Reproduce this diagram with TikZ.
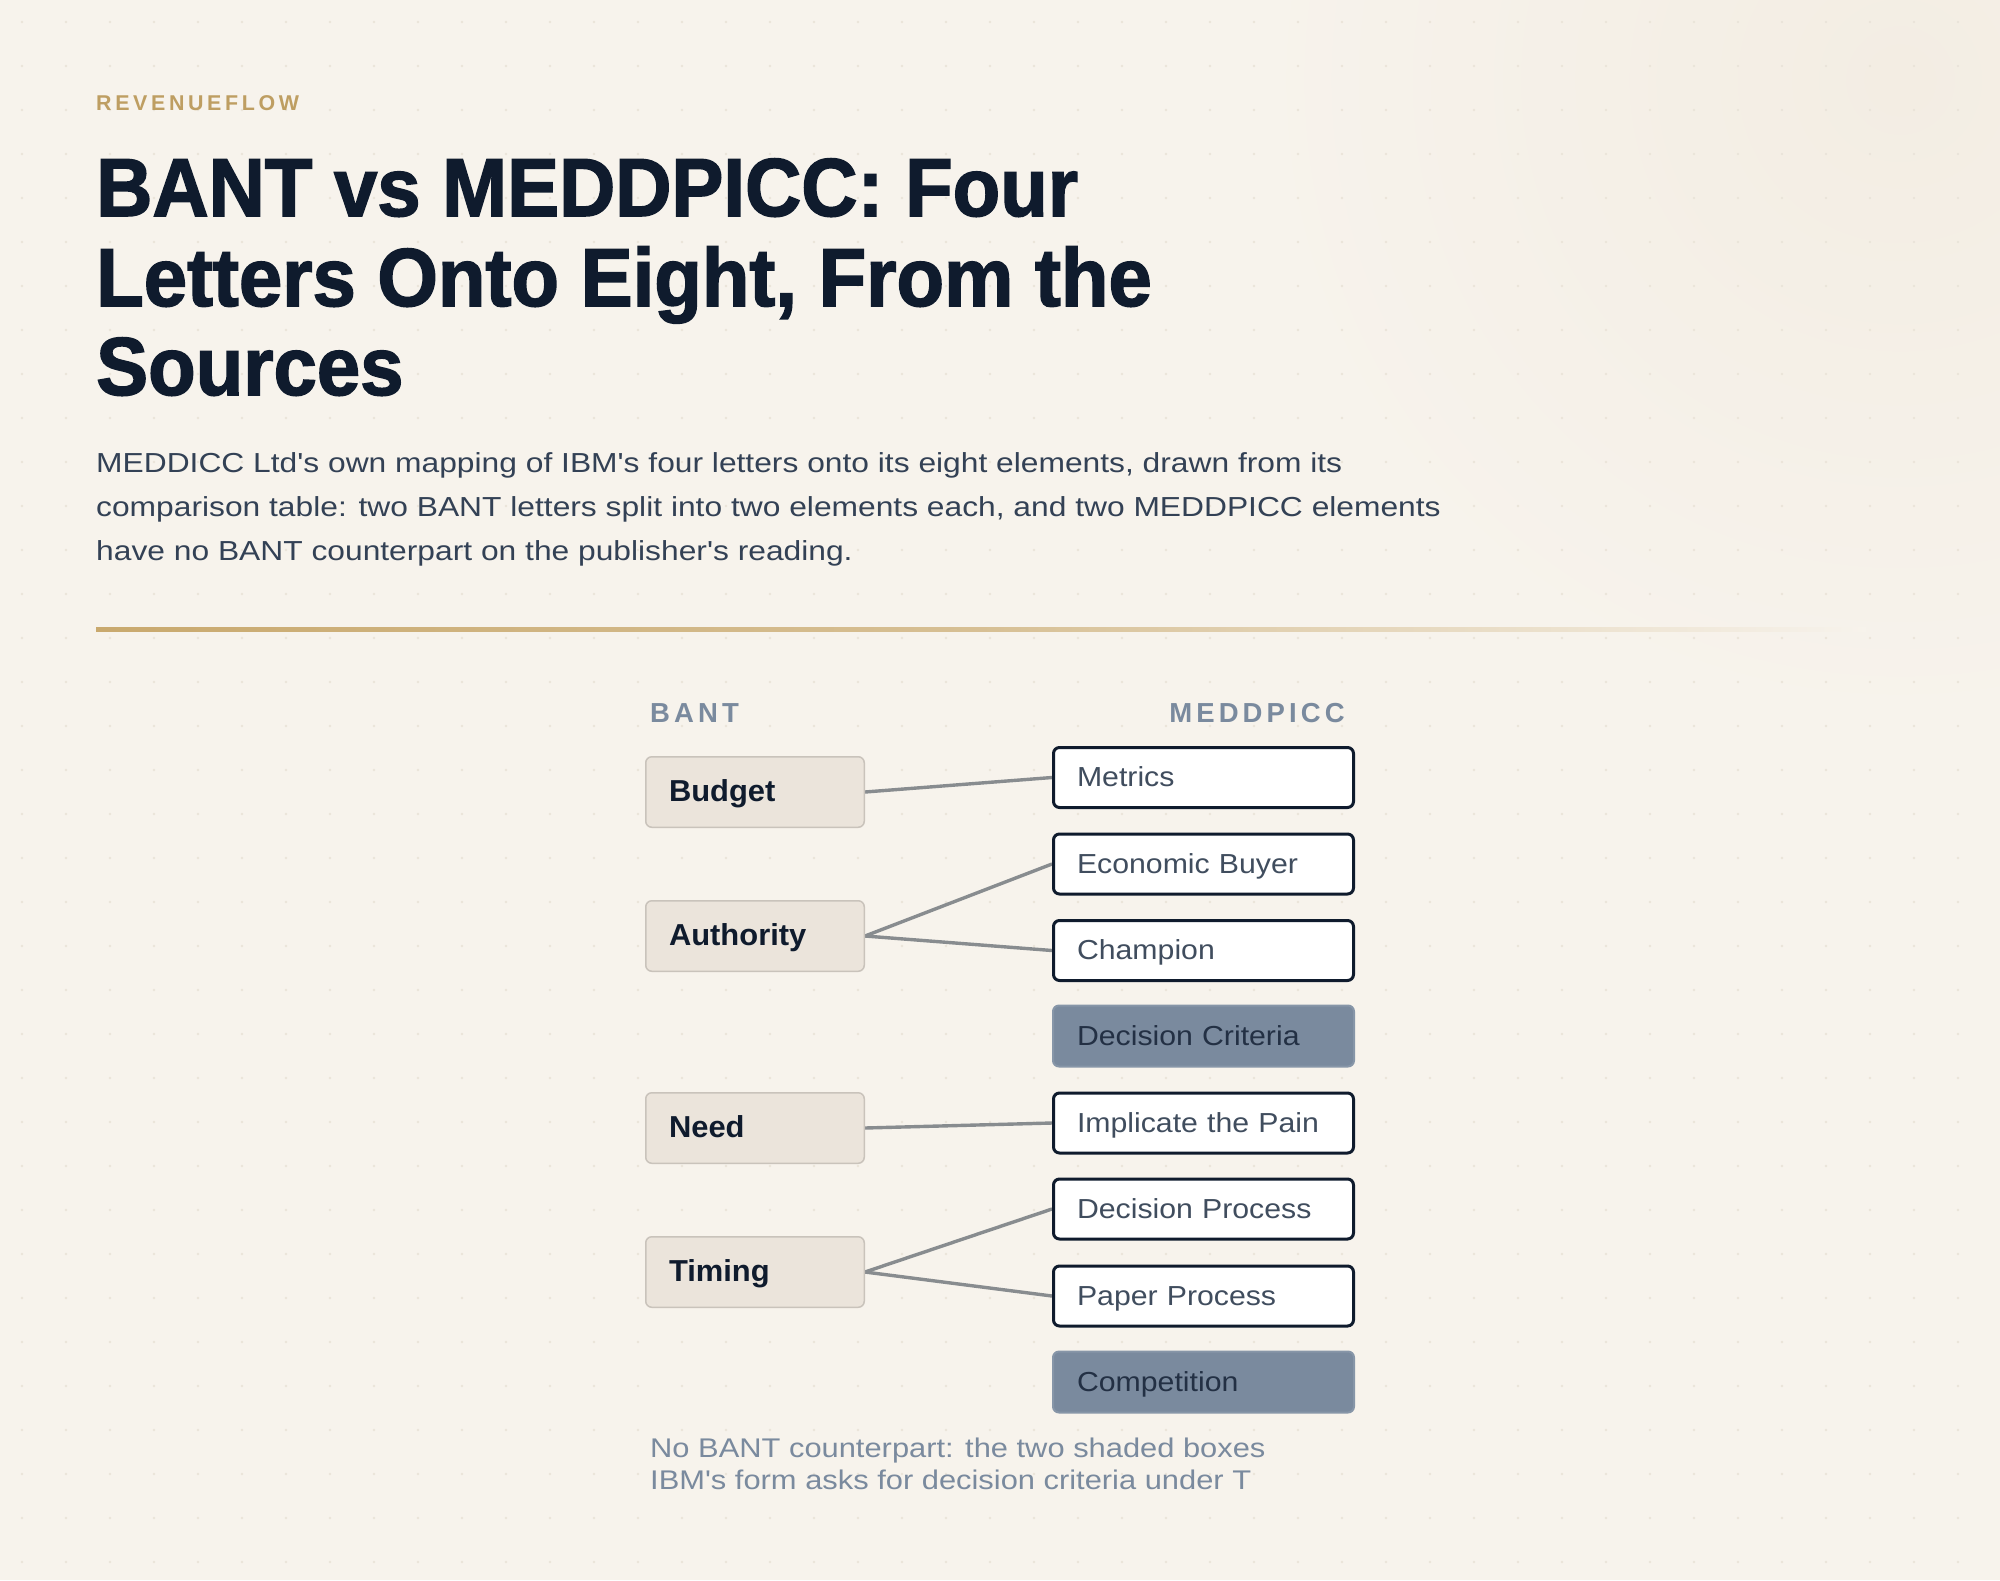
\documentclass[tikz,border=0pt]{standalone}
\usepackage{fontspec}
\setmainfont{Liberation Sans}
\newfontfamily\titlef[FakeStretch=0.945,BoldFeatures={FakeBold=1.8}]{Liberation Sans}
\newfontfamily\bodyf[FakeStretch=1.1]{Liberation Sans}
\newfontfamily\subf[FakeStretch=1.155]{Liberation Sans}
\newfontfamily\notef[FakeStretch=1.143]{Liberation Sans}
\newfontfamily\boldf[FakeStretch=1.02]{Liberation Sans}
\newfontfamily\capsf[LetterSpace=15]{Liberation Sans}
\newfontfamily\brandf[LetterSpace=17]{Liberation Sans}
\definecolor{bgc}{HTML}{F7F3EC}
\definecolor{bgtop}{HTML}{F3EDE3}
\definecolor{dotc}{HTML}{EAE4D9}
\definecolor{goldc}{HTML}{BE9E62}
\definecolor{sepc}{HTML}{C9A96E}
\definecolor{navy}{HTML}{0F1B2D}
\definecolor{subc}{HTML}{334155}
\definecolor{slatec}{HTML}{7A8A9E}
\definecolor{bantfill}{HTML}{EBE4DB}
\definecolor{bantline}{HTML}{C9C3BB}
\definecolor{medtext}{HTML}{404D5E}
\definecolor{shadeline}{HTML}{8796A8}
\definecolor{shadetext}{HTML}{233044}
\definecolor{linkc}{HTML}{888C8F}
\pgfdeclarelayer{bgl}
\pgfdeclarelayer{back}
\pgfsetlayers{bgl,back,main}
\begin{document}
\begin{tikzpicture}[x=1pt,y=-1pt,
  brand/.style={anchor=base west,inner sep=0,text=goldc,font=\brandf\bfseries\fontsize{21.4}{24}\selectfont},
  titleline/.style={anchor=base west,inner sep=0,text=navy,font=\titlef\bfseries\fontsize{82.4}{89}\selectfont},
  subline/.style={anchor=base west,inner sep=0,text=subc,font=\subf\fontsize{27.5}{44}\selectfont},
  colhead/.style={inner sep=0,text=slatec,font=\capsf\bfseries\fontsize{27.5}{30}\selectfont},
  bantbox/.style={draw=bantline,line width=1.5pt,fill=bantfill,rounded corners=6pt,
    minimum width=218.5pt,minimum height=70.5pt,text width=172pt,align=left,inner xsep=0pt,inner ysep=0pt,
    text height=20.5pt,text depth=1pt,text=navy,font=\boldf\bfseries\fontsize{30.3}{34}\selectfont},
  medbox/.style={draw=navy,line width=3pt,fill=white,rounded corners=6pt,
    minimum width=300pt,minimum height=60pt,text width=253pt,align=left,inner xsep=0pt,inner ysep=0pt,
    text height=19.5pt,text depth=1pt,text=medtext,font=\bodyf\fontsize{27.5}{30}\selectfont},
  shadebox/.style={medbox,draw=shadeline,line width=2pt,fill=slatec,text=shadetext,
    minimum width=301pt,minimum height=61pt},
  link/.style={draw=linkc,line width=3.4pt},
  note/.style={anchor=base west,inner sep=0,text=slatec,font=\notef\fontsize{27}{32}\selectfont}
]
\useasboundingbox (0,0) rectangle (2000,1580);
\begin{pgfonlayer}{bgl}
\begin{scope}
\clip (0,0) rectangle (2000,1580);
\fill[bgc] (0,0) rectangle (2000,1580);
\shade[inner color=bgtop,outer color=bgc] (1900,80) circle (650);
\foreach \i in {0,...,45} \foreach \j in {0,...,35}
  \fill[dotc] (22+44*\i,22+44*\j) circle (1.3);
\shade[left color=sepc,right color=bgc,middle color=sepc!70!bgc] (96,627.7) rectangle (1866,631.3);
\end{scope}
\end{pgfonlayer}

\node[brand] (brand) at (96,110) {REVENUEFLOW};
\node[titleline] (t1) at (96,216) {BANT vs MEDDPICC: Four};
\node[titleline] (t2) at (96,306) {Letters Onto Eight, From the};
\node[titleline] (t3) at (96,395) {Sources};
\node[subline] (s1) at (96,472) {MEDDICC Ltd's own mapping of IBM's four letters onto its eight elements, drawn from its};
\node[subline] (s2) at (96,516) {comparison table: two BANT letters split into two elements each, and two MEDDPICC elements};
\node[subline] (s3) at (96,560) {have no BANT counterpart on the publisher's reading.};

\node[colhead,anchor=base west] (hbant) at (650,722) {BANT};
\node[colhead,anchor=base east] (hmed) at (1345,722) {MEDDPICC};

\node[bantbox] (budget) at (755,792) {Budget};
\node[bantbox] (authority) at (755,936) {Authority};
\node[bantbox] (need) at (755,1128) {Need};
\node[bantbox] (timing) at (755,1272) {Timing};

\node[medbox] (metrics) at (1203.5,777.5) {Metrics};
\node[medbox] (eb) at (1203.5,864) {Economic Buyer};
\node[medbox] (champ) at (1203.5,950.5) {Champion};
\node[shadebox] (dc) at (1203.5,1036) {Decision Criteria};
\node[medbox] (pain) at (1203.5,1123) {Implicate the Pain};
\node[medbox] (dp) at (1203.5,1209) {Decision Process};
\node[medbox] (pp) at (1203.5,1296) {Paper Process};
\node[shadebox] (comp) at (1203.5,1382) {Competition};

\begin{pgfonlayer}{back}
\draw[link] (budget.east) -- (metrics.west);
\draw[link] (authority.east) -- (eb.west);
\draw[link] (authority.east) -- (champ.west);
\draw[link] (need.east) -- (pain.west);
\draw[link] (timing.east) -- (dp.west);
\draw[link] (timing.east) -- (pp.west);
\end{pgfonlayer}

\node[note] (n1) at (650,1457) {No BANT counterpart: the two shaded boxes};
\node[note] (n2) at (650,1489) {IBM's form asks for decision criteria under T};
\end{tikzpicture}
\end{document}
